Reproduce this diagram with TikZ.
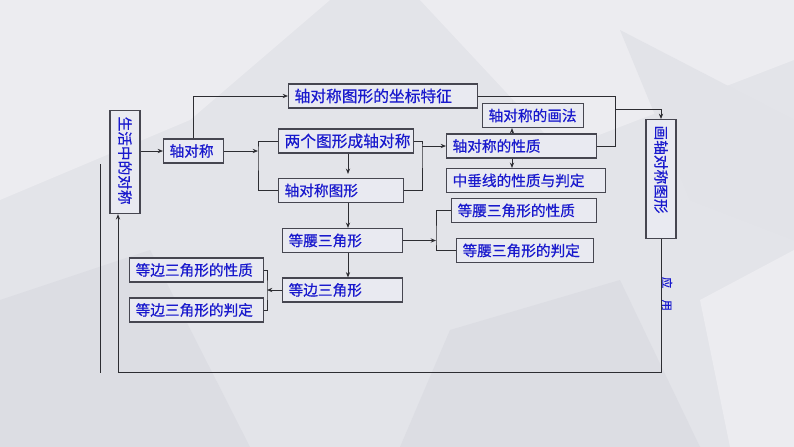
\documentclass[tikz,border=0pt]{standalone}
\usepackage{fontspec}
\setmainfont{Noto Sans CJK SC}[FakeBold=0.6]
\usetikzlibrary{arrows.meta,positioning,calc}
\definecolor{txtblue}{RGB}{25,25,205}
\definecolor{lnc}{RGB}{45,45,50}
\definecolor{boxfill}{RGB}{233,234,241}
\definecolor{boxline}{RGB}{70,70,80}
\definecolor{bgbase}{RGB}{227,228,233}
\definecolor{bglight}{RGB}{236,236,240}
\definecolor{bgdark}{RGB}{220,221,227}

\begin{document}
\begin{tikzpicture}[x=0.75pt, y=-0.75pt,
  box/.style={draw=boxline, line width=0.9pt, fill=boxfill, text=txtblue, inner xsep=4.5pt, inner ysep=0pt,
    minimum height=18pt, text width=#1, align=left, anchor=west, font=\fontsize{11}{13}\selectfont},
  vbox/.style={box=#1, rotate=-90, minimum height=22.5pt},
  big/.style={font=\fontsize{11.8}{14}\selectfont},
  >={Stealth[length=4pt,width=3.2pt]}, color=lnc, line width=0.75pt]
  \fill[bgbase] (0,0) rectangle (794,447);
  \fill[bglight] (0,0) -- (330,0) -- (190,120) -- (0,200) -- cycle;
  \fill[bglight] (420,0) -- (794,0) -- (794,60) -- (560,150) -- cycle;
  \fill[bgdark] (0,300) -- (150,250) -- (250,447) -- (0,447) -- cycle;
  \fill[bgdark] (450,330) -- (620,280) -- (700,447) -- (400,447) -- cycle;
  \fill[bglight] (700,300) -- (794,250) -- (794,447) -- (730,447) -- cycle;
  \fill[bgdark!60!bglight] (620,30) -- (794,120) -- (794,240) -- (690,200) -- cycle;
  \useasboundingbox (0,0) rectangle (794,447);

  \node[vbox=68.25pt] (life) at (125,110) {生活中的对称};
  \node[box=36pt] (axis) at (163,151) {轴对称};
  \node[box=132.75pt, big] (coord) at (288,96) {轴对称图形的坐标特征};
  \node[box=92.25pt, big] (two) at (278,141) {两个图形成轴对称};
  \node[box=84.75pt] (fig) at (278,190.5) {轴对称图形};
  \node[box=66.75pt] (way) at (482,115.5) {轴对称的画法};
  \node[box=103.5pt] (prop) at (446,146) {轴对称的性质};
  \node[box=110.25pt] (perp) at (446,180.5) {中垂线的性质与判定};
  \node[box=99.75pt] (isoP) at (451,210.5) {等腰三角形的性质};
  \node[box=93.75pt] (isoJ) at (456,250.5) {等腰三角形的判定};
  \node[box=81pt] (iso) at (282,240.5) {等腰三角形};
  \node[box=81pt] (equi) at (282,290) {等边三角形};
  \node[box=91.5pt] (equiP) at (129,270) {等边三角形的性质};
  \node[box=91.5pt] (equiJ) at (129,310) {等边三角形的判定};
  \node[vbox=80.25pt] (draw) at (661,119) {画轴对称图形};
  \node[rotate=-90, text=txtblue, font=\fontsize{8.5}{9}\selectfont, inner sep=0pt] (use) at (667,294) {应\quad 用};

  \coordinate (jL) at (258,151);
  \coordinate (jR) at (422,146);
  \coordinate (jT) at (615,109);
  \coordinate (jI) at (436,240.5);
  \coordinate (jE) at (267,290);
  \coordinate (c) at (348,0);
  \coordinate (m) at (512,0);
  \coordinate (lp) at (118,372);
  \coordinate (s1) at (100,164);
  \coordinate (s2) at (100,373);

  \draw[<-] (axis.west) -- (axis.west -| life.north);
  \draw[->] (axis.north) |- (coord.west);
  \draw[->] (axis.east) -- (jL);
  \draw (two.west) -| (jL) |- (fig.west);
  \draw[->] (two.south -| c) -- ([yshift=3pt]fig.north -| c);
  \draw (two.east) -| (jR) |- (fig.east);
  \draw[->] (jR) -- (prop.west);
  \draw[->] (prop.north -| m) -- (way.south -| m);
  \draw[->] (prop.south -| m) -- (perp.north -| m);
  \draw (coord.east) -| (jT);
  \draw (prop.east) -| (jT);
  \draw[->] (jT) -| (draw.west);
  \draw[->] (fig.south -| c) -- (iso.north -| c);
  \draw[->] (iso.east) -- (jI);
  \draw (isoP.west) -| (jI) |- (isoJ.west);
  \draw[->] (iso.south -| c) -- (equi.north -| c);
  \draw[->] (equi.west) -- (jE);
  \draw (equiP.east) -| (jE) |- (equiJ.east);
  \draw[->] (draw.east) |- (lp) -- (lp |- life.east);
  \draw (s1) -- (s2);
\end{tikzpicture}
\end{document}
